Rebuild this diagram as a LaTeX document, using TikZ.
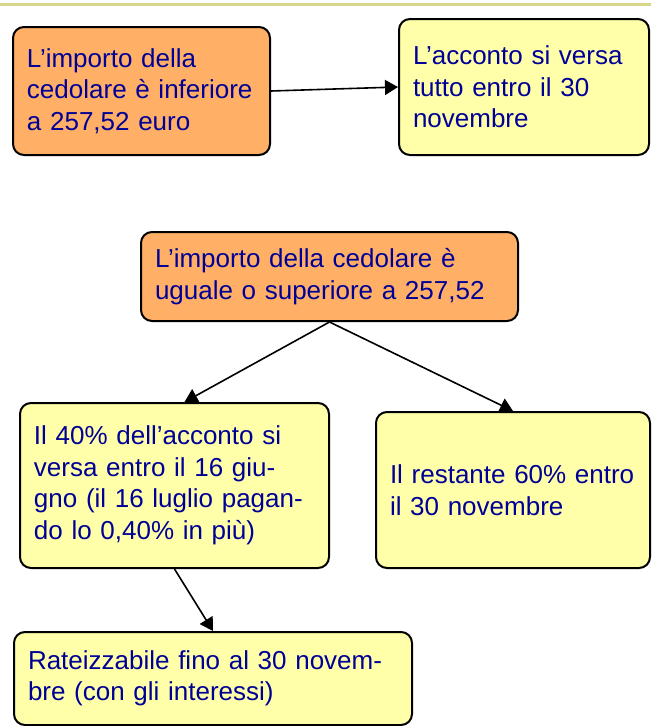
\documentclass[tikz,border=0pt]{standalone}
\usepackage{fontspec}
\setmainfont{Liberation Sans}
\usepackage{xcolor}
\usepackage{tikz}
\usetikzlibrary{shapes,arrows.meta,positioning,calc}

\definecolor{boxorange}{RGB}{255,176,102}
\definecolor{boxyellow}{RGB}{255,255,170}
\definecolor{textblue}{RGB}{0,0,150}
\definecolor{topline}{RGB}{214,214,140}

\begin{document}
\begin{tikzpicture}[x=1pt, y=-1pt, >={Triangle[length=13pt,width=15pt]}]
\tikzset{
block/.style    = {draw, line width=2pt, rounded corners=11pt, inner xsep=14pt, inner ysep=0pt, align=left, text=textblue, font=\fontsize{26}{31.5}\selectfont},
cond/.style     = {block, fill=boxorange},
result/.style   = {block, fill=boxyellow},
link/.style     = {->, line width=1.6pt},
}
    \useasboundingbox (0,0) rectangle (651,726);
    \draw [topline, line width=2.5pt] (0,4.5) -- (651,4.5);

    % Main nodes
    \node [cond,   text width=229pt, minimum height=128pt] (lower)   at (141.5,91)  {L’importo della\\cedolare è inferiore\\a 257,52 euro};
    \node [result, text width=222pt, minimum height=136pt] (whole)   at (524,87)    {L’acconto si versa\\tutto entro il 30\\novembre};
    \node [cond,   text width=349pt, minimum height=89pt]  (higher)  at (329.5,276.5) {L’importo della cedolare è\\uguale o superiore a 257,52};
    \node [result, text width=281pt, minimum height=165pt] (first)   at (174.5,485.5) {Il 40\% dell’acconto si\\versa entro il 16 giu-\\gno (il 16 luglio pagan-\\do lo 0,40\% in più)};
    \node [result, text width=246pt, minimum height=156pt] (rest)    at (513,490)   {Il restante 60\% entro\\il 30 novembre};
    \node [result, text width=370pt, minimum height=93pt]  (instal)  at (213,678.5) {Rateizzabile fino al 30 novem-\\bre (con gli interessi)};

    % Main edges
    \draw [link]  (lower.east)    --  (whole.west);
    \draw [link]  (higher.south)  --  ([xshift=10pt]first.north);
    \draw [link]  (higher.south)  --  (rest.north);
    \draw [link]  (first.south)   --  (instal.north);

\end{tikzpicture}
\end{document}
